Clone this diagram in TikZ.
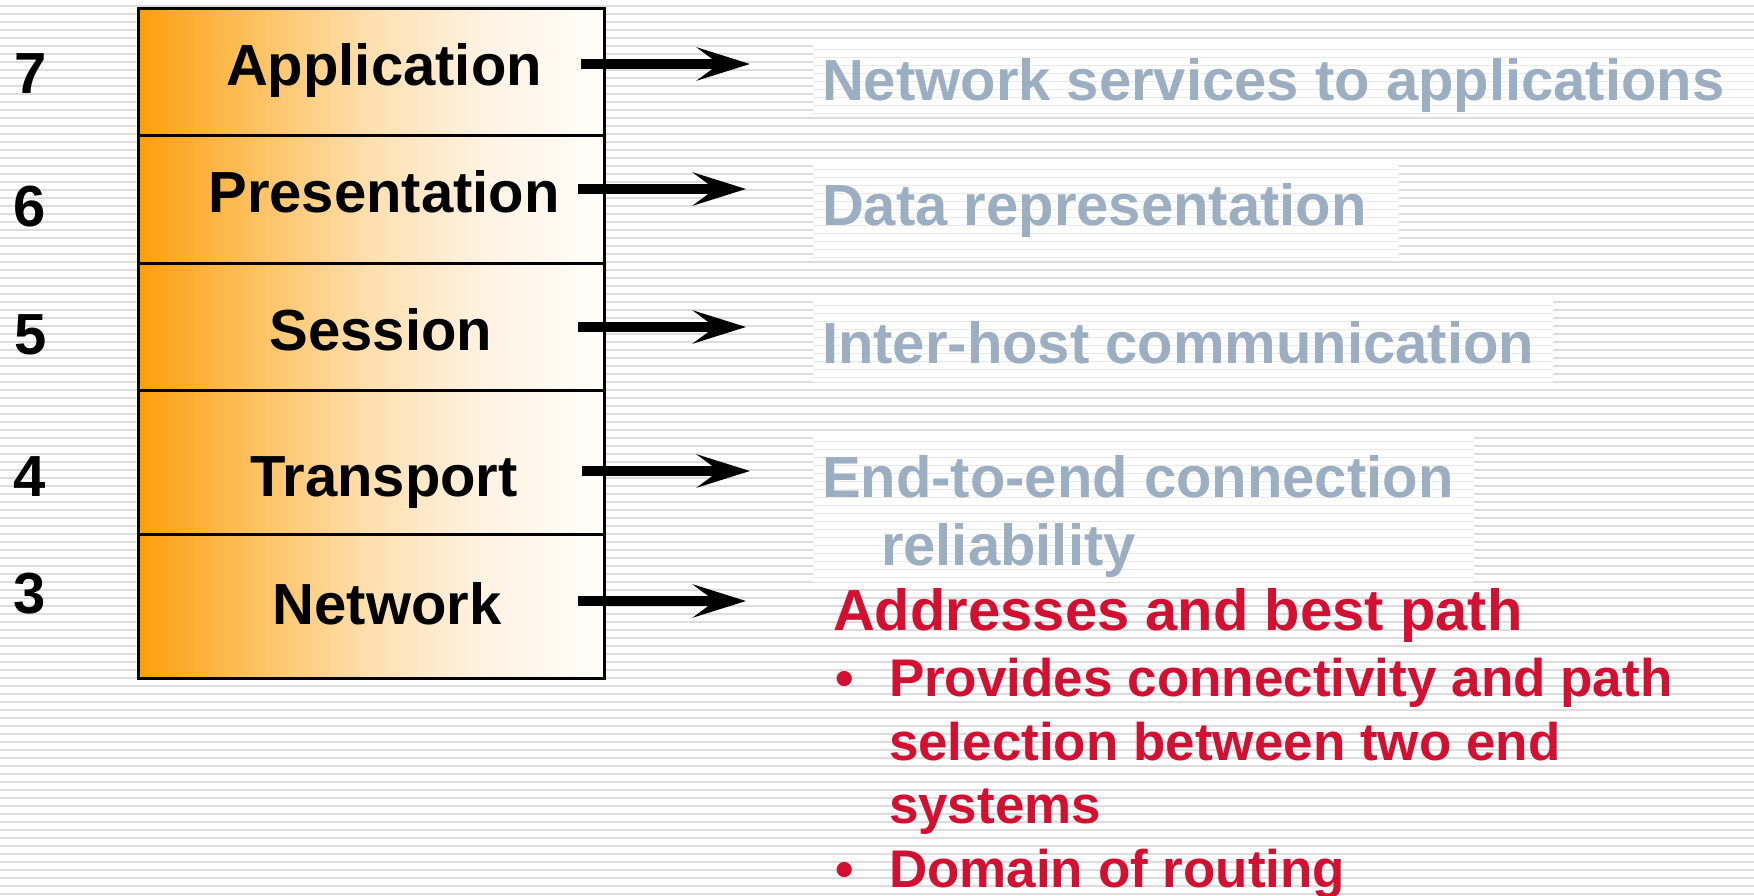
\documentclass[tikz,border=0pt]{standalone}
\usepackage{fontspec}
\setmainfont{Liberation Sans}
\usetikzlibrary{arrows.meta}
\definecolor{stripe}{RGB}{221,221,221}
\definecolor{stripelight}{RGB}{234,234,234}
\definecolor{oA}{RGB}{255,158,12}
\definecolor{oB}{RGB}{253,193,96}
\definecolor{oC}{RGB}{254,224,176}
\definecolor{oD}{RGB}{255,243,228}
\definecolor{oE}{RGB}{255,253,250}
\definecolor{greytxt}{RGB}{156,174,194}
\definecolor{redtxt}{RGB}{210,16,50}
\pgfdeclarehorizontalshading{layershade}{100bp}{color(0bp)=(oA); color(25bp)=(oA); color(37.5bp)=(oB); color(50bp)=(oC); color(62.5bp)=(oD); color(75bp)=(oE); color(100bp)=(oE)}
\tikzset{
  layerbox/.style={draw=black, line width=3pt, shading=layershade, anchor=north west, minimum width=466pt, inner sep=0pt, outer sep=0pt},
  big/.style={font=\fontsize{58}{70}\selectfont\bfseries, inner sep=0pt, outer sep=0pt},
  small/.style={font=\fontsize{53}{64}\selectfont\bfseries, inner sep=0pt, outer sep=0pt, text=redtxt},
  numtxt/.style={big, anchor=base west, text=black},
  laytxt/.style={big, anchor=base, text=black},
  desc/.style={big, anchor=base west, text=greytxt},
  redhead/.style={big, anchor=base west, text=redtxt},
  redline/.style={small, anchor=base west},
  arr/.style={line width=10pt, -{Stealth[length=53pt, width=33pt, inset=22pt]}},
}
\begin{document}
\begin{tikzpicture}[x=1pt, y=-1pt]
\useasboundingbox (0,0) rectangle (1754,895);
\fill[white] (0,0) rectangle (1754,895);
% background stripes
\foreach \y in {5,13,...,893} { \fill[stripe] (0,\y) rectangle (1754,\y+2.3); }
% text boxes behind grey descriptions
\foreach \a/\b/\c/\d in {813/45/1754/117, 813/163/1399/258, 813/300/1553/382, 813/434/1474/582} {
  \fill[white] (\a,\b) rectangle (\c,\d);
  \begin{scope}
    \clip (\a,\b) rectangle (\c,\d);
    \foreach \y in {1,9,...,893} { \fill[stripelight] (\a,\y) rectangle (\c,\y+1.4); }
  \end{scope}
}
% layer boxes
\node[layerbox, minimum height=127pt] (L7) at (138,8) {};
\node[layerbox, minimum height=128pt] (L6) at (138,135) {};
\node[layerbox, minimum height=127pt] (L5) at (138,263) {};
\node[layerbox, minimum height=144pt] (L4) at (138,390) {};
\node[layerbox, minimum height=144pt] (L3) at (138,534) {};
% layer names
\node[laytxt] (t7) at (384,85) {Application};
\node[laytxt] (t6) at (384,212) {Presentation};
\node[laytxt] (t5) at (381,350) {Session};
\node[laytxt] (t4) at (384,496) {Transport};
\node[laytxt] (t3) at (387,624) {Network};
% numbers
\node[numtxt] (n7) at (14,93) {7};
\node[numtxt] (n6) at (13,226) {6};
\node[numtxt] (n5) at (14,354) {5};
\node[numtxt] (n4) at (13,496) {4};
\node[numtxt] (n3) at (13,613) {3};
% arrows
\coordinate (s7) at (581,64);  \coordinate (e7) at (750,64);
\coordinate (s6) at (578,189); \coordinate (e6) at (746,189);
\coordinate (s5) at (578,327); \coordinate (e5) at (746,327);
\coordinate (s4) at (582,471); \coordinate (e4) at (750,471);
\coordinate (s3) at (578,601); \coordinate (e3) at (746,601);
\draw[arr] (s7) -- (e7);
\draw[arr] (s6) -- (e6);
\draw[arr] (s5) -- (e5);
\draw[arr] (s4) -- (e4);
\draw[arr] (s3) -- (e3);
% grey descriptions
\node[desc] (d7) at (822,100) {Network services to applications};
\node[desc] (d6) at (822,225) {Data representation};
\node[desc] (d5) at (822,363) {Inter-host communication};
\node[desc] (d4) at (822,497) {End-to-end connection};
\node[desc] (d4r) at (881,565) {reliability};
% red network description
\node[redhead] (r0) at (833,630) {Addresses and best path};
\node[redline] (b1) at (835,696) {•};
\node[redline] (r1) at (889,696) {Provides connectivity and path};
\node[redline] (r2) at (889,760) {selection between two end};
\node[redline] (r3) at (889,823) {systems};
\node[redline] (b2) at (835,887) {•};
\node[redline] (r4) at (889,887) {Domain of routing};
\end{tikzpicture}
\end{document}
